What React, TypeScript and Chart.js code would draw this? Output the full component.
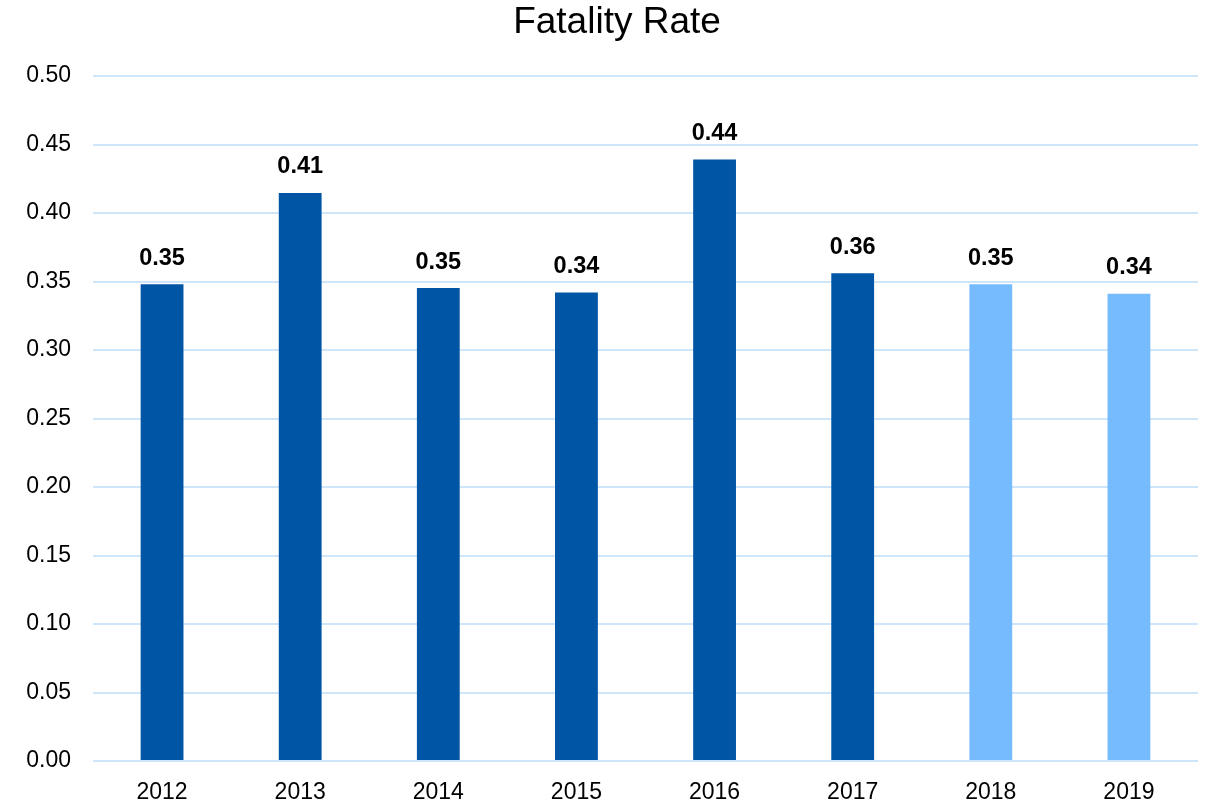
import React, { useEffect, useRef } from "react";
import { Chart, registerables } from "chart.js";

Chart.register(...registerables);

const years = ["2012", "2013", "2014", "2015", "2016", "2017", "2018", "2019"];
const fatalityRate = [0.348, 0.4146, 0.3452, 0.342, 0.439, 0.3561, 0.348, 0.341];
const valueLabels = ["0.35", "0.41", "0.35", "0.34", "0.44", "0.36", "0.35", "0.34"];
const barColors = ["#0055a5", "#0055a5", "#0055a5", "#0055a5", "#0055a5", "#0055a5", "#77bbff", "#77bbff"];
const chartTitle = "Fatality Rate";

const FONT = "'Liberation Sans', Arial, sans-serif";

const labelPlugin = {
  id: "valueLabels",
  afterDatasetsDraw(chart: any) {
    const ctx = chart.ctx;
    const meta = chart.getDatasetMeta(0);
    ctx.save();
    ctx.font = `bold 23.5px ${FONT}`;
    ctx.fillStyle = "#000000";
    ctx.textAlign = "center";
    ctx.textBaseline = "middle";
    meta.data.forEach((bar: any, i: number) => {
      ctx.fillText(valueLabels[i], bar.x, bar.y - 26);
    });
    ctx.restore();
  },
};

const titlePlugin = {
  id: "offsetTitle",
  afterDraw(chart: any) {
    const ctx = chart.ctx;
    ctx.save();
    ctx.font = `37px ${FONT}`;
    ctx.fillStyle = "#000000";
    ctx.textAlign = "center";
    ctx.textBaseline = "middle";
    ctx.fillText(chartTitle, 617, 23);
    ctx.restore();
  },
};

export default function App() {
  const ref = useRef<HTMLCanvasElement | null>(null);
  useEffect(() => {
    if (!ref.current) return;
    const chart = new Chart(ref.current, {
      type: "bar",
      data: {
        labels: years,
        datasets: [
          {
            label: chartTitle,
            data: fatalityRate,
            backgroundColor: barColors,
            categoryPercentage: 1,
            barPercentage: 0.31,
          },
        ],
      },
      options: {
        animation: false,
        responsive: true,
        maintainAspectRatio: false,
        layout: { padding: { left: 0, right: 10, top: 76, bottom: 0 } },
        plugins: {
          legend: { display: false },
          tooltip: { enabled: false },
          title: { display: false },
        },
        scales: {
          x: {
            grid: { display: false },
            border: { display: false },
            ticks: {
              color: "#000000",
              font: { family: FONT, size: 23, lineHeight: 1 },
              padding: 12,
            },
            afterFit: (scale: any) => {
              scale.height = 41;
            },
          },
          y: {
            min: 0,
            max: 0.5,
            grid: { color: "#cfe6fa", lineWidth: 2, drawTicks: false },
            border: { display: false },
            ticks: {
              stepSize: 0.05,
              color: "#000000",
              font: { family: FONT, size: 23 },
              padding: 22,
              callback: (v: any) => Number(v).toFixed(2),
            },
            afterFit: (scale: any) => {
              scale.width = 93;
            },
          },
        },
      },
      plugins: [labelPlugin, titlePlugin],
    });
    return () => chart.destroy();
  }, []);
  return (
    <div style={{ position: "fixed", left: 0, top: 0, width: 1208, height: 802, background: "#ffffff" }}>
      <canvas ref={ref} />
    </div>
  );
}
